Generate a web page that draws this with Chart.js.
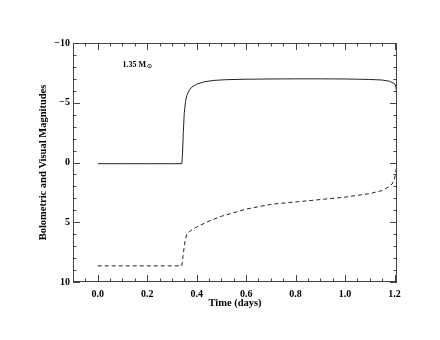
<!DOCTYPE html>
<html><head><meta charset="utf-8">
<script src="https://cdn.jsdelivr.net/npm/chart.js@4"></script>
<style>html,body{margin:0;padding:0;background:#fff}</style>
</head><body>
<canvas id="c" width="440" height="340" style="display:block;width:440px;height:340px"></canvas>
<script>
// Bolometric magnitude (solid)
const timeBol = [0.0, 0.1, 0.2, 0.3, 0.34, 0.343, 0.346, 0.35, 0.355, 0.36, 0.37, 0.38, 0.40, 0.43, 0.47, 0.52, 0.6, 0.7, 0.8, 0.9, 1.0, 1.05, 1.1, 1.15, 1.18, 1.2, 1.205, 1.208, 1.21];
const magBol  = [0.1, 0.1, 0.1, 0.1, 0.1, -0.8, -2.5, -4.2, -5.1, -5.6, -6.05, -6.3, -6.55, -6.75, -6.87, -6.93, -6.97, -6.99, -7.0, -7.0, -6.99, -6.97, -6.95, -6.9, -6.8, -6.6, -6.4, -6.0, -5.3];
// Visual magnitude (dashed)
const timeVis = [0.0, 0.1, 0.2, 0.3, 0.34, 0.345, 0.35, 0.355, 0.36, 0.37, 0.38, 0.4, 0.45, 0.5, 0.6, 0.7, 0.8, 0.9, 1.0, 1.1, 1.15, 1.18, 1.19, 1.2, 1.205, 1.21];
const magVis  = [8.65, 8.65, 8.65, 8.65, 8.65, 7.8, 7.0, 6.4, 6.0, 5.8, 5.65, 5.4, 4.9, 4.5, 3.9, 3.5, 3.3, 3.1, 2.9, 2.6, 2.35, 2.0, 1.8, 1.4, 0.8, 0.1];
// Axis ticks
const xTicks = [0.0, 0.2, 0.4, 0.6, 0.8, 1.0, 1.2];
const xMinor = [-0.05, 0.05, 0.1, 0.15, 0.25, 0.3, 0.35, 0.45, 0.5, 0.55, 0.65, 0.7, 0.75, 0.85, 0.9, 0.95, 1.05, 1.1, 1.15];
const yTicks = [-10, -5, 0, 5, 10];
const yMinor = [-9, -8, -7, -6, -4, -3, -2, -1, 1, 2, 3, 4, 6, 7, 8, 9];
const annotationText = '1.35 M';
const annotationSub = '\u2299';

const toPts = (xs, ys) => xs.map((x, i) => ({x: x, y: ys[i]}));
const serif = 'Liberation Serif';

const framePlugin = {
  id: 'frame',
  afterDatasetsDraw(chart) {
    const ctx = chart.ctx, a = chart.chartArea;
    const xs = chart.scales.x, ys = chart.scales.y;
    ctx.save();
    ctx.strokeStyle = '#444';
    ctx.lineWidth = 1;
    ctx.strokeRect(Math.round(a.left) + 0.5, Math.round(a.top) + 0.5, Math.round(a.right - a.left) - 1, Math.round(a.bottom - a.top) - 1);
    const major = 7, minor = 3.5;
    ctx.beginPath();
    const vt = (v, len) => {
      const p = Math.round(xs.getPixelForValue(v)) + 0.5;
      ctx.moveTo(p, a.bottom); ctx.lineTo(p, a.bottom - len);
      ctx.moveTo(p, a.top); ctx.lineTo(p, a.top + len);
    };
    const ht = (v, len) => {
      const p = Math.round(ys.getPixelForValue(v)) + 0.5;
      ctx.moveTo(a.left, p); ctx.lineTo(a.left + len, p);
      ctx.moveTo(a.right, p); ctx.lineTo(a.right - len, p);
    };
    xTicks.forEach(v => vt(v, major));
    xMinor.forEach(v => vt(v, minor));
    yTicks.forEach(v => ht(v, major));
    yMinor.forEach(v => ht(v, minor));
    ctx.stroke();
    // annotation
    const ax = xs.getPixelForValue(0.1), ay = ys.getPixelForValue(-8.2);
    ctx.fillStyle = '#000';
    ctx.textBaseline = 'middle';
    ctx.textAlign = 'left';
    ctx.font = 'bold 8px "' + serif + '"';
    ctx.fillText(annotationText, ax, ay);
    const w = ctx.measureText(annotationText).width;
    ctx.font = 'bold 5.5px "' + serif + '"';
    ctx.fillText(annotationSub, ax + w + 0.5, ay + 2.5);
    ctx.restore();
  }
};

new Chart(document.getElementById('c'), {
  type: 'scatter',
  data: {
    datasets: [
      {data: toPts(timeBol, magBol), showLine: true, borderColor: '#222', borderWidth: 1, pointRadius: 0, tension: 0},
      {data: toPts(timeVis, magVis), showLine: true, borderColor: '#222', borderWidth: 1, borderDash: [4, 3], pointRadius: 0, tension: 0}
    ]
  },
  options: {
    responsive: false,
    animation: false,
    devicePixelRatio: 1,
    layout: {padding: {top: 43, right: 43, left: 0, bottom: 0}},
    plugins: {legend: {display: false}, tooltip: {enabled: false}},
    scales: {
      x: {
        type: 'linear', min: -0.1, max: 1.21,
        afterBuildTicks: s => { s.ticks = xTicks.map(v => ({value: v})); },
        afterFit: s => { s.height = 58; },
        grid: {display: false, drawTicks: false},
        border: {display: false},
        ticks: {color: '#000', padding: 6, font: {family: serif, size: 10, weight: 'bold'}, callback: v => Number(v).toFixed(1), maxRotation: 0, autoSkip: false},
        title: {display: true, text: 'Time (days)', color: '#000', font: {family: serif, size: 10.5, weight: 'bold'}, padding: {top: 0, bottom: 30}}
      },
      y: {
        type: 'linear', min: -10, max: 10, reverse: true,
        afterBuildTicks: s => { s.ticks = yTicks.map(v => ({value: v})); },
        afterFit: s => { s.width = 73; },
        grid: {display: false, drawTicks: false},
        border: {display: false},
        ticks: {color: '#000', padding: 3, font: {family: serif, size: 10, weight: 'bold'}, callback: v => (v < 0 ? '\u2212' + Math.abs(v) : String(v)), autoSkip: false},
        title: {display: true, text: 'Bolometric and Visual Magnitudes', color: '#000', font: {family: serif, size: 10.5, weight: 'bold'}, padding: {top: 36.5, bottom: 0}}
      }
    }
  },
  plugins: [framePlugin]
});
</script>
</body></html>
